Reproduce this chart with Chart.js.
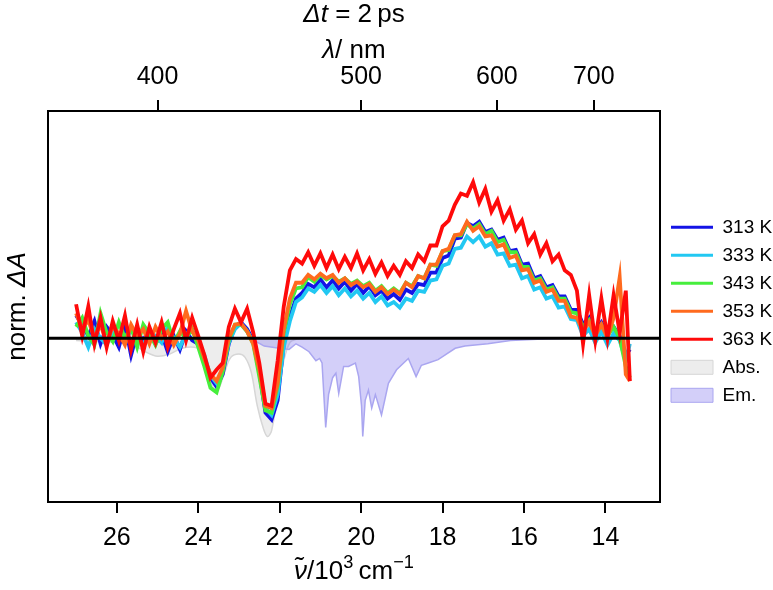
<!DOCTYPE html>
<html>
<head>
<meta charset="utf-8">
<script src="https://cdn.jsdelivr.net/npm/chart.js@4/dist/chart.umd.min.js"></script>
<style>
    body { margin: 0; background: #fff; }
</style>
</head>
<body>
<canvas id="tas-canvas" width="773" height="590"></canvas>
<script>
// wavenumber grid, 10^3 cm-1
var nu = [27.00, 26.85, 26.70, 26.55, 26.40, 26.25, 26.10, 25.95, 25.80, 25.65,
          25.50, 25.35, 25.20, 25.05, 24.90, 24.75, 24.60, 24.45, 24.30, 24.15,
          24.00, 23.85, 23.70, 23.55, 23.40, 23.25, 23.10, 22.95, 22.80, 22.65,
          22.50, 22.35, 22.20, 22.05, 21.90, 21.75, 21.60, 21.45, 21.30, 21.15,
          21.00, 20.85, 20.70, 20.55, 20.40, 20.25, 20.10, 19.95, 19.80, 19.65,
          19.50, 19.35, 19.20, 19.05, 18.90, 18.75, 18.60, 18.45, 18.30, 18.15,
          18.00, 17.85, 17.70, 17.55, 17.40, 17.25, 17.10, 16.95, 16.80, 16.65,
          16.50, 16.35, 16.20, 16.05, 15.90, 15.75, 15.60, 15.45, 15.30, 15.15,
          15.00, 14.85, 14.70, 14.55, 14.40, 14.25, 14.10, 13.95, 13.80, 13.65,
          13.50, 13.40]

var k313 = [0.20, 0.12, 0.02, 0.15, -0.05, 0.10, 0.03, -0.08, 0.12, -0.15,
            0.05, -0.02, 0.08, -0.05, 0.04, -0.12, 0.02, -0.10, 0.06, -0.02,
            -0.05, -0.18, -0.35, -0.43, -0.32, -0.05, 0.10, 0.14, 0.08, -0.02,
            -0.30, -0.66, -0.72, -0.55, -0.05, 0.19, 0.35, 0.40, 0.48, 0.45,
            0.52, 0.45, 0.51, 0.44, 0.50, 0.42, 0.48, 0.40, 0.46, 0.38,
            0.42, 0.35, 0.39, 0.34, 0.43, 0.40, 0.48, 0.47, 0.58, 0.58,
            0.71, 0.73, 0.88, 0.89, 1.02, 0.99, 1.03, 0.94, 0.96, 0.87,
            0.89, 0.77, 0.78, 0.65, 0.66, 0.53, 0.55, 0.45, 0.47, 0.37,
            0.37, 0.25, 0.25, 0.12, 0.18, 0.06, 0.14, 0.04, 0.10, 0.02,
            -0.15, -0.10]

var k333 = [0.14, 0.05, -0.08, 0.08, 0.00, -0.06, 0.06, 0.02, -0.04, 0.08,
            0.00, -0.06, 0.06, 0.02, -0.04, 0.10, 0.00, -0.08, 0.04, 0.06,
            -0.02, -0.15, -0.33, -0.40, -0.28, -0.04, 0.08, 0.13, 0.06, -0.03,
            -0.30, -0.62, -0.68, -0.50, -0.08, 0.15, 0.32, 0.36, 0.44, 0.41,
            0.47, 0.40, 0.46, 0.38, 0.44, 0.37, 0.42, 0.35, 0.40, 0.32,
            0.37, 0.29, 0.32, 0.27, 0.35, 0.33, 0.42, 0.41, 0.51, 0.52,
            0.64, 0.66, 0.79, 0.80, 0.90, 0.85, 0.90, 0.81, 0.84, 0.74,
            0.75, 0.64, 0.65, 0.53, 0.55, 0.43, 0.45, 0.35, 0.37, 0.27,
            0.28, 0.17, 0.16, 0.02, 0.08, -0.04, 0.06, -0.06, 0.04, -0.02,
            -0.20, -0.05]

var k343 = [0.10, 0.18, 0.02, -0.06, 0.22, 0.05, -0.03, 0.14, 0.00, 0.10,
            -0.08, 0.12, 0.04, -0.06, 0.08, 0.14, -0.04, 0.06, 0.00, 0.08,
            -0.08, -0.25, -0.44, -0.48, -0.30, -0.02, 0.12, 0.12, 0.06, -0.05,
            -0.34, -0.64, -0.66, -0.42, 0.05, 0.30, 0.44, 0.45, 0.54, 0.50,
            0.56, 0.52, 0.55, 0.50, 0.53, 0.48, 0.51, 0.46, 0.49, 0.42,
            0.46, 0.40, 0.44, 0.40, 0.49, 0.46, 0.55, 0.53, 0.65, 0.64,
            0.77, 0.78, 0.91, 0.91, 1.01, 0.97, 1.01, 0.92, 0.95, 0.85,
            0.87, 0.76, 0.76, 0.63, 0.63, 0.51, 0.53, 0.43, 0.45, 0.35,
            0.35, 0.23, 0.22, 0.10, 0.16, 0.04, 0.12, 0.02, 0.10, 0.00,
            -0.25, -0.35]

var k353 = [0.22, 0.08, 0.16, 0.00, 0.12, -0.04, 0.10, 0.04, -0.06, 0.12,
            0.02, 0.08, -0.05, 0.10, 0.00, 0.06, -0.06, 0.04, 0.24, 0.06,
            -0.02, -0.18, -0.32, -0.38, -0.26, 0.00, 0.12, 0.13, 0.06, -0.05,
            -0.28, -0.60, -0.62, -0.40, 0.08, 0.35, 0.49, 0.49, 0.56, 0.52,
            0.57, 0.53, 0.56, 0.49, 0.53, 0.47, 0.50, 0.45, 0.48, 0.41,
            0.45, 0.39, 0.43, 0.39, 0.49, 0.45, 0.55, 0.53, 0.65, 0.65,
            0.77, 0.79, 0.91, 0.92, 1.03, 0.95, 0.99, 0.90, 0.91, 0.81,
            0.83, 0.71, 0.73, 0.60, 0.61, 0.49, 0.51, 0.41, 0.43, 0.33,
            0.33, 0.19, 0.18, 0.06, 0.14, 0.02, 0.12, 0.00, 0.18, 0.54,
            -0.32, -0.38]

var k363 = [0.30, 0.02, 0.28, -0.05, 0.18, -0.08, 0.15, -0.02, 0.20, -0.10,
            0.12, -0.12, 0.10, -0.04, 0.14, -0.08, 0.08, 0.22, -0.02, 0.18,
            0.02, -0.15, -0.35, -0.28, -0.22, 0.10, 0.26, 0.14, 0.26, 0.05,
            -0.22, -0.58, -0.60, -0.20, 0.28, 0.60, 0.70, 0.66, 0.76, 0.64,
            0.75, 0.62, 0.74, 0.61, 0.72, 0.62, 0.75, 0.60, 0.70, 0.57,
            0.67, 0.55, 0.64, 0.56, 0.68, 0.62, 0.74, 0.68, 0.82, 0.82,
            0.99, 1.04, 1.18, 1.28, 1.26, 1.38, 1.20, 1.32, 1.12, 1.22,
            1.04, 1.14, 0.96, 1.04, 0.84, 0.92, 0.74, 0.84, 0.68, 0.74,
            0.60, 0.56, 0.42, -0.05, 0.38, -0.02, 0.35, 0.00, 0.38, 0.05,
            0.42, -0.38]

// steady-state absorption and emission (scaled, negative)
var absNu = [27.0, 26.5, 26.0, 25.6, 25.3, 25.0, 24.7, 24.4, 24.1, 23.9,
             23.75, 23.6, 23.5, 23.35, 23.2, 23.0, 22.85, 22.7, 22.55, 22.4,
             22.3, 22.2, 22.05, 21.9, 21.75, 21.6, 21.4]
var absVal = [-0.02, -0.03, -0.04, -0.06, -0.12, -0.16, -0.14, -0.09, -0.08, -0.12,
              -0.30, -0.47, -0.45, -0.30, -0.17, -0.14, -0.17, -0.30, -0.60, -0.80,
              -0.87, -0.82, -0.50, -0.20, -0.04, -0.01, 0.00]

var emNu = [22.75, 22.58, 22.38, 22.01, 21.77, 21.60, 21.45, 21.28, 21.11, 21.02,
            20.96, 20.87, 20.80, 20.70, 20.62, 20.55, 20.43, 20.31, 20.14, 20.06,
            19.99, 19.96, 19.90, 19.82, 19.74, 19.65, 19.50, 19.33, 19.13, 18.84,
            18.65, 18.52, 18.35, 18.11, 17.69, 17.45, 16.89, 16.33, 15.67, 14.70,
            13.40]
var emVal = [0.00, -0.03, -0.07, -0.09, -0.10, -0.05, -0.08, -0.12, -0.20, -0.18,
             -0.22, -0.79, -0.50, -0.35, -0.31, -0.49, -0.25, -0.25, -0.22, -0.34,
             -0.60, -0.87, -0.55, -0.46, -0.62, -0.50, -0.68, -0.40, -0.28, -0.18,
             -0.34, -0.24, -0.22, -0.19, -0.09, -0.07, -0.05, -0.02, -0.01, 0.00,
             0.00]

var seriesLabels = ['313 K', '333 K', '343 K', '353 K', '363 K']
var seriesColors = ['#1414e6', '#22c8f2', '#46ee3c', '#ff6a1e', '#ff0a0a']
var bottomTicks = [26, 24, 22, 20, 18, 16, 14]
var topTicksNm = [400, 500, 600, 700]

var fontFamily = "'Liberation Sans', Arial, sans-serif"

function to_points(xs, ys) {
    var pts = []
    for (let i = 0; i < xs.length; i++) {
        pts.push({x: xs[i], y: ys[i]})
    }
    return pts
}

var seriesValues = [k313, k333, k343, k353, k363]
var datasets = []
for (let i = 0; i < seriesValues.length; i++) {
    datasets.push({
        label: seriesLabels[i],
        data: to_points(nu, seriesValues[i]),
        borderColor: seriesColors[i],
        backgroundColor: seriesColors[i],
        borderWidth: 3.8,
        pointRadius: 0,
        tension: 0,
        fill: false,
        order: 5 - i
    })
}
datasets.push({
    label: 'Abs.',
    data: to_points(absNu, absVal),
    borderColor: '#d6d6d6',
    backgroundColor: 'rgba(215, 215, 215, 0.45)',
    borderWidth: 1.5,
    pointRadius: 0,
    tension: 0.35,
    fill: 'origin',
    order: 7
})
datasets.push({
    label: 'Em.',
    data: to_points(emNu, emVal),
    borderColor: '#aaa6f0',
    backgroundColor: 'rgba(140, 130, 240, 0.38)',
    borderWidth: 1.5,
    pointRadius: 0,
    tension: 0,
    fill: 'origin',
    order: 6
})

// draws a string made of parts with their own style, centred at cx, cy
function draw_rich(ctx, parts, cx, cy, size) {
    var width = 0
    parts.forEach(function (p) {
        ctx.font = (p.italic ? 'italic ' : '') + (p.sup ? size * 0.7 : size) + 'px ' + fontFamily
        width += ctx.measureText(p.t).width
    })
    var x = cx - width / 2
    parts.forEach(function (p) {
        ctx.font = (p.italic ? 'italic ' : '') + (p.sup ? size * 0.7 : size) + 'px ' + fontFamily
        ctx.fillText(p.t, x, p.sup ? cy - size * 0.33 : cy)
        x += ctx.measureText(p.t).width
    })
}

var extrasPlugin = {
    id: 'extras',
    afterDatasetsDraw: function (chart) {
        var ctx = chart.ctx
        var area = chart.chartArea
        var y0 = chart.scales.y.getPixelForValue(0)
        ctx.save()
        ctx.strokeStyle = '#000'
        ctx.lineWidth = 3
        ctx.beginPath()
        ctx.moveTo(area.left, y0)
        ctx.lineTo(area.right, y0)
        ctx.stroke()
        ctx.restore()
    },
    afterDraw: function (chart) {
        var ctx = chart.ctx
        var area = chart.chartArea
        var cx = (area.left + area.right) / 2
        ctx.save()
        ctx.fillStyle = '#000'
        ctx.textAlign = 'left'
        ctx.textBaseline = 'middle'
        draw_rich(ctx, [{t: '\u0394t', italic: true}, {t: ' = 2\u2009ps'}], cx, 15, 26)
        draw_rich(ctx, [{t: '\u03bb', italic: true}, {t: '/ nm'}], cx, 51, 26)
        draw_rich(ctx, [{t: '\u03bd\u0303', italic: true}, {t: '/10'}, {t: '3', sup: true},
                        {t: '\u2009cm'}, {t: '\u22121', sup: true}], cx, 572, 26)
        ctx.translate(18, (area.top + area.bottom) / 2)
        ctx.rotate(-Math.PI / 2)
        draw_rich(ctx, [{t: 'norm. '}, {t: '\u0394A', italic: true}], 0, 0, 26)
        ctx.restore()
    }
}

var tickFont = {family: fontFamily, size: 25}

var ctx = document.getElementById('tas-canvas').getContext('2d')
var tasChart = new Chart(ctx, {
    type: 'line',
    data: {datasets: datasets},
    options: {
        responsive: false,
        devicePixelRatio: 1,
        animation: false,
        layout: {padding: 0},
        plugins: {
            tooltip: {enabled: false},
            legend: {
                position: 'right',
                align: 'center',
                fullSize: false,
                maxWidth: 111,
                title: {display: true, text: '', padding: 0, font: {size: 8}},
                labels: {
                    usePointStyle: true,
                    pointStyleWidth: 42,
                    boxWidth: 42,
                    boxHeight: 14,
                    padding: 9,
                    color: '#000',
                    font: {family: fontFamily, size: 19},
                    generateLabels: function (chart) {
                        return chart.data.datasets.map(function (ds, i) {
                            var isFill = ds.fill === 'origin'
                            return {
                                text: ds.label,
                                datasetIndex: i,
                                fillStyle: ds.backgroundColor,
                                strokeStyle: ds.borderColor,
                                lineWidth: isFill ? 1 : 3,
                                pointStyle: isFill ? 'rect' : 'line',
                                hidden: false,
                                fontColor: '#000'
                            }
                        })
                    }
                }
            }
        },
        scales: {
            x: {
                type: 'linear',
                position: 'bottom',
                reverse: true,
                min: 12.66,
                max: 27.69,
                afterBuildTicks: function (scale) {
                    scale.ticks = bottomTicks.map(function (v) { return {value: v} })
                },
                afterFit: function (scale) { scale.height = 88 },
                ticks: {color: '#000', font: tickFont, padding: 10, maxRotation: 0,
                        callback: function (v) { return String(v) }},
                grid: {drawOnChartArea: false, drawTicks: true, tickLength: 11, color: '#000', lineWidth: 2},
                border: {color: '#000', width: 2}
            },
            x2: {
                type: 'linear',
                position: 'top',
                reverse: true,
                min: 12.66,
                max: 27.69,
                afterBuildTicks: function (scale) {
                    scale.ticks = topTicksNm.map(function (nm) { return {value: 1e4 / nm} })
                },
                afterFit: function (scale) { scale.height = 111 },
                ticks: {color: '#000', font: tickFont, padding: 8, maxRotation: 0,
                        callback: function (v) { return String(Math.round(1e4 / v)) }},
                grid: {drawOnChartArea: false, drawTicks: true, tickLength: 11, color: '#000', lineWidth: 2},
                border: {color: '#000', width: 2}
            },
            y: {
                type: 'linear',
                position: 'left',
                min: -1.45,
                max: 2.01,
                afterFit: function (scale) { scale.width = 48 },
                ticks: {display: false},
                grid: {display: false},
                border: {color: '#000', width: 2}
            },
            y2: {
                type: 'linear',
                position: 'right',
                min: -1.45,
                max: 2.01,
                afterFit: function (scale) { scale.width = 2 },
                ticks: {display: false},
                grid: {display: false},
                border: {color: '#000', width: 2}
            }
        }
    },
    plugins: [extrasPlugin]
})
</script>
</body>
</html>
